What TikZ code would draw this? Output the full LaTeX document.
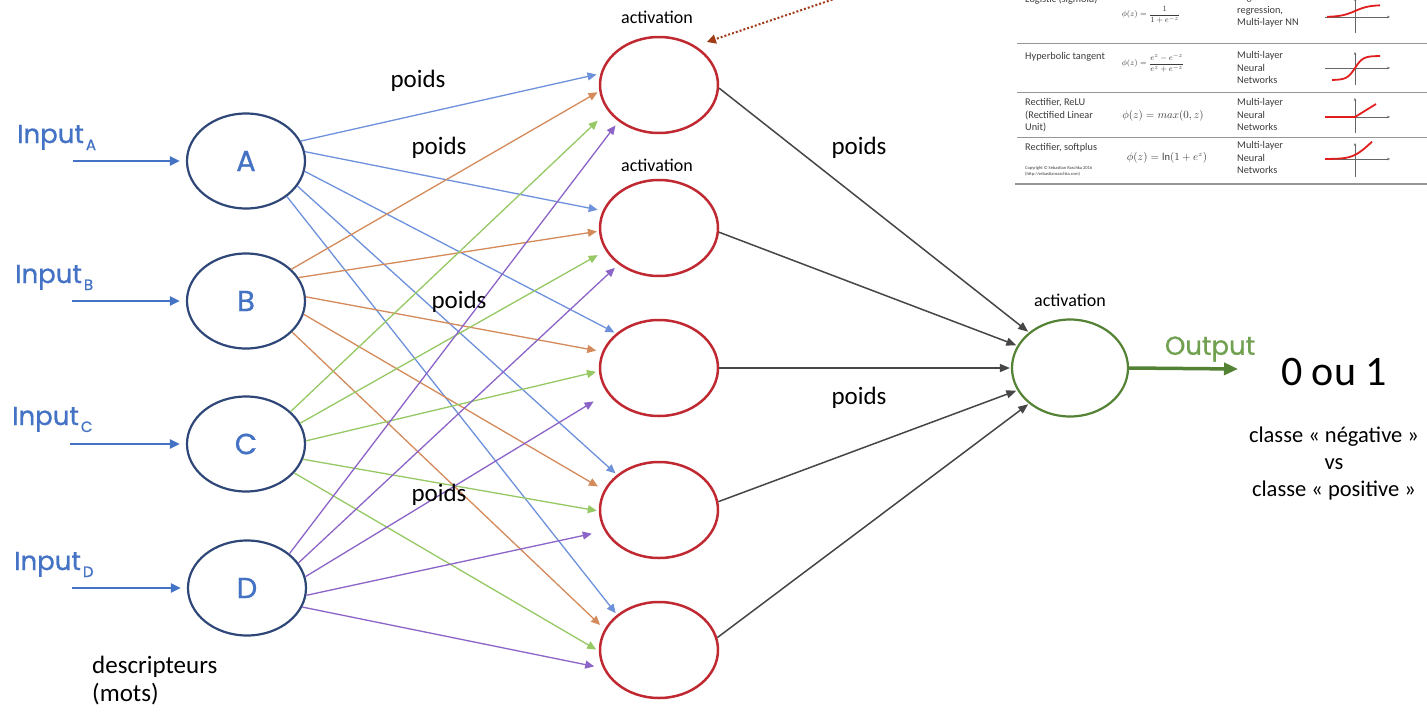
\documentclass[tikz,border=0pt]{standalone}
\usepackage{fontspec}
\setmainfont{Carlito}
\newfontfamily\geofam{Poppins}[FakeBold=0.8]
\usetikzlibrary{arrows.meta,shapes.geometric}
\definecolor{inblue}{RGB}{68,114,196}
\definecolor{nodeblue}{RGB}{47,70,120}
\definecolor{hidred}{RGB}{192,40,50}
\definecolor{outgreen}{RGB}{84,130,53}
\definecolor{outtext}{RGB}{112,160,80}
\definecolor{eA}{RGB}{110,145,220}
\definecolor{eB}{RGB}{212,138,90}
\definecolor{eC}{RGB}{150,200,100}
\definecolor{eD}{RGB}{140,100,200}
\definecolor{eO}{RGB}{70,70,70}
\definecolor{dotbrown}{RGB}{160,60,25}
\definecolor{tabtext}{RGB}{60,60,60}
\definecolor{tabline}{RGB}{150,150,150}
\definecolor{curvered}{RGB}{225,30,30}
\begin{document}
\begin{tikzpicture}[x=1pt,y=-1pt,
  inode/.style={ellipse, draw=nodeblue, line width=2.2pt, minimum width=118pt, minimum height=95pt, inner sep=0pt, text=inblue, font=\geofam\fontsize{29}{30}\selectfont},
  hnode/.style={ellipse, draw=hidred, line width=2.5pt, minimum width=118pt, minimum height=96pt, inner sep=0pt},
  onode/.style={ellipse, draw=outgreen, line width=2.2pt, minimum width=116pt, minimum height=97pt, inner sep=0pt},
  edge/.style={line width=1.3pt, -{Triangle[length=9pt,width=8pt]}},
  oedge/.style={line width=1.5pt, eO, -{Triangle[length=10pt,width=8pt]}},
  inarrow/.style={line width=2.5pt, inblue, -{Triangle[length=10pt,width=9pt]}},
  inlabel/.style={anchor=base west, inner sep=0pt, text=inblue, font=\geofam\fontsize{26}{28}\selectfont},
  weight/.style={inner sep=0pt, font=\fontsize{25}{28}\selectfont},
  actlabel/.style={inner sep=0pt, font=\fontsize{18}{20}\selectfont},
  tab/.style={inner sep=0pt, text=tabtext, font=\fontsize{10.3}{12.8}\selectfont, align=left},
  tabmath/.style={inner sep=0pt, text=tabtext, font=\fontsize{8.5}{10}\selectfont},
  axis/.style={line width=0.8pt, black!60, -{Stealth[length=3pt,width=2.5pt]}},
  curve/.style={line width=1.8pt, curvered}
]
\path[use as bounding box] (0,0) rectangle (1427,715);
\clip (0,0) rectangle (1427,715);
\fill[white] (0,0) rectangle (1427,715);

% input nodes
\node[inode] (A) at (246,161) {A};
\node[inode] (B) at (246,301) {B};
\node[inode] (C) at (246,444) {C};
\node[inode] (D) at (247,588) {D};

% hidden nodes
\node[hnode] (H1) at (659,85) {};
\node[hnode] (H2) at (659,228) {};
\node[hnode] (H3) at (659,368) {};
\node[hnode] (H4) at (659,510) {};
\node[hnode] (H5) at (659,650) {};

% output node
\node[onode] (O) at (1070,368) {};

% input arrows
\coordinate (inA) at (73,161);
\coordinate (inB) at (72,301);
\coordinate (inC) at (70,444);
\coordinate (inD) at (72,588);
\foreach \n in {A,B,C,D}{
  \draw[inarrow, shorten >=6pt] (in\n) -- (\n.west);
}
\node[inlabel] (labA) at (17,143) {Input\kern2pt\raisebox{-7pt}{\fontsize{15}{15}\selectfont A}};
\node[inlabel] (labB) at (15,283) {Input\kern2pt\raisebox{-7pt}{\fontsize{15}{15}\selectfont B}};
\node[inlabel] (labC) at (12,425) {Input\kern2pt\raisebox{-7pt}{\fontsize{15}{15}\selectfont C}};
\node[inlabel] (labD) at (14,570) {Input\kern2pt\raisebox{-7pt}{\fontsize{15}{15}\selectfont D}};

% input -> hidden edges
\foreach \s/\sa/\t/\ta/\c/\g in {
  A/20/H1/169/eA/4, A/9/H2/163/eA/5, A/-10/H3/141/eA/2, A/-26/H4/140/eA/2, A/-41/H5/140/eA/2,
  B/35/H1/186/eB/2, B/24/H2/183/eB/2, B/4/H3/164/eB/6, B/-13/H4/160/eB/7, B/-34/H5/159/eB/6,
  C/36/H1/207/eC/14, C/21/H2/203/eC/9, C/3/H3/183/eC/3, C/-15/H4/181/eC/2, C/-31/H5/181/eC/3,
  D/39/H1/222/eD/5, D/26/H2/222/eD/5, D/11/H3/206/eD/16, D/-7/H4/201/eD/13, D/-19/H5/198/eD/9}{
  \draw[edge, \c, shorten >=\g pt] (\s.\sa) -- (\t.\ta);
}

% hidden -> output edges
\draw[oedge, shorten >=1pt] (H1.-3) -- (O.139);
\draw[oedge, shorten >=1pt] (H2.-4) -- (O.157);
\draw[oedge, shorten >=1pt] (H3.0) -- (O.180);
\draw[oedge, shorten >=1pt] (H4.8) -- (O.203);
\draw[oedge, shorten >=1pt] (H5.12) -- (O.221);

% output arrow
\coordinate (outEnd) at (1238,369);
\draw[line width=3.5pt, outgreen, -{Triangle[length=14pt,width=12pt]}] (O.east) -- (outEnd);
\node[inner sep=0pt, text=outtext, font=\geofam\fontsize{26}{28}\selectfont] (outlab) at (1210,349) {Output};

% dotted arrow
\coordinate (dotStart) at (840,-3);
\draw[line width=2pt, dotbrown, dotted, -{Triangle[length=9pt,width=9pt]}, shorten >=12pt] (dotStart) -- (H1.47);

% activation labels
\node[actlabel] (act1) at (657,17) {activation};
\node[actlabel] (act2) at (657,165) {activation};
\node[actlabel] (act3) at (1070,300) {activation};

% weights
\node[weight] (w1) at (418,81) {poids};
\node[weight] (w2) at (439,148) {poids};
\node[weight] (w3) at (459,302) {poids};
\node[weight] (w4) at (439,495) {poids};
\node[weight] (w5) at (859,148) {poids};
\node[weight] (w6) at (859,398) {poids};

% result texts
\node[inner sep=0pt, font=\fontsize{42}{46}\selectfont] (res) at (1334,372) {0 ou 1};
\node[inner sep=0pt, align=center, font=\fontsize{22.5}{27}\selectfont] (cls) at (1334,463) {classe « négative »\\vs\\classe « positive »};
\node[anchor=north west, inner sep=0pt, align=left, font=\fontsize{25}{28}\selectfont] (desc) at (92,656) {descripteurs\\(mots)};

% activation functions table
\draw[tabline, line width=1pt] (1017,43) -- (1427,43);
\draw[tabline, line width=1pt] (1017,92) -- (1427,92);
\draw[tabline, line width=1pt] (1017,137) -- (1427,137);
\draw[tabline, line width=2.5pt] (1015,184) -- (1427,184);

\node[tab, anchor=west] (r1n) at (1025,0) {Logistic (sigmoid)};
\node[tabmath] (r1f) at (1151,15) {$\displaystyle\phi(z)=\frac{1}{1+e^{-z}}$};
\node[tab, anchor=north west] (r1u) at (1237,-7) {Logistic\\regression,\\Multi-layer NN};

\node[tab, anchor=west] (r2n) at (1025,57) {Hyperbolic tangent};
\node[tabmath] (r2f) at (1153,63) {$\displaystyle\phi(z)=\frac{e^{z}-e^{-z}}{e^{z}+e^{-z}}$};
\node[tab, anchor=north west] (r2u) at (1237,51) {Multi-layer\\Neural\\Networks};

\node[tab, anchor=north west] (r3n) at (1025,98) {Rectifier, ReLU\\(Rectified Linear\\Unit)};
\node[tabmath, font=\fontsize{10.5}{12}\selectfont] (r3f) at (1163,116) {$\phi(z)=max(0,z)$};
\node[tab, anchor=north west] (r3u) at (1237,98) {Multi-layer\\Neural\\Networks};

\node[tab, anchor=west] (r4n) at (1025,148) {Rectifier, softplus};
\node[tab, anchor=north west, font=\fontsize{4.5}{6.5}\selectfont] (copy) at (1025,166) {Copyright © Sebastian Raschka 2016\\(http://sebastianraschka.com)};
\node[tabmath, font=\fontsize{10.5}{12}\selectfont] (r4f) at (1167,158) {$\phi(z)=\ln(1+e^{z})$};
\node[tab, anchor=north west] (r4u) at (1237,141) {Multi-layer\\Neural\\Networks};

% function graphs
\draw[axis] (1325,17) -- (1390,17);
\draw[axis] (1355,33) -- (1355,-2);
\draw[curve] plot[domain=-28:25, samples=40, smooth] ({1355+\x}, {17-12/(1+exp(-\x/7))});

\draw[axis] (1325,68) -- (1390,68);
\draw[axis] (1355,85) -- (1355,52);
\draw[curve] plot[domain=-23:25, samples=40, smooth] ({1355+\x}, {68-12*tanh(\x/8)});

\draw[axis] (1325,117) -- (1390,117);
\draw[axis] (1355,133) -- (1355,98);
\draw[curve] (1325,117) -- (1355,117) -- (1376,104);

\draw[axis] (1325,159) -- (1390,159);
\draw[axis] (1355,177) -- (1355,143);
\draw[curve] plot[domain=-30:17, samples=40, smooth] ({1355+\x}, {159-6*ln(1+exp(\x/6))});
\end{tikzpicture}
\end{document}
